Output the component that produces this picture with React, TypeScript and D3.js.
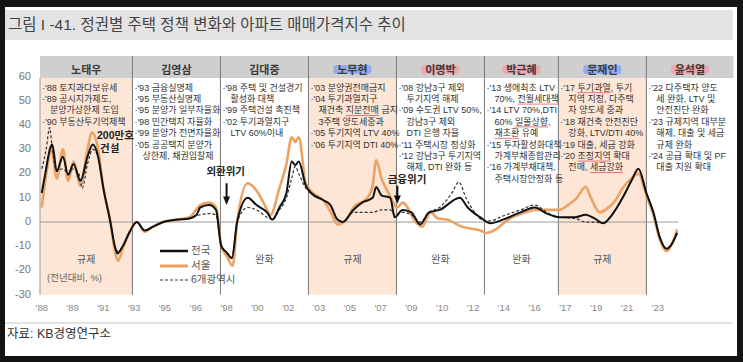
import React, { useEffect, useRef, useState } from 'react';
import * as d3 from 'd3';

// 정권별 주택 정책 변화와 아파트 매매가격지수 (전년대비, %)
const yTicks = [60, 50, 40, 30, 20, 10, 0, -10, -20, -30];
const xTickLabels = ["'88", "'89", "'91", "'93", "'95", "'96", "'98", "'00", "'02", "'03", "'05",
  "'07", "'09", "'10", "'12", "'14", "'16", "'17", "'19", "'21", "'23"];

const regimes = ['노태우', '김영삼', '김대중', '노무현', '이명박', '박근혜', '문재인', '윤석열'];
const regimeStarts = [1987.9, 1993.15, 1998.15, 2003.15, 2008.15, 2013.15, 2017.35, 2022.35];
const regimeStances = ['규제', '', '완화', '규제', '완화', '완화', '규제', ''];
const regimeShaded = [true, false, false, true, false, false, true, false];
const regimeMarks = ['', '', '', 'blue', 'red', 'red', 'blue', 'red'];

const policyNotes: string[][] = [
  ["·'88 토지과다보유세", "·'89 공시지가제도,", "분양가상한제 도입", "·'90 부동산투기억제책"],
  ["·'93 금융실명제", "·'95 부동산실명제", "·'95 분양가 일부자율화", "·'98 민간택지 자율화",
    "·'99 분양가 전면자율화", "·'05 공공택지 분양가", "상한제, 채권입찰제"],
  ["·'98 주택 및 건설경기", "활성화 대책", "·'99 주택건설 촉진책", "·'02 투기과열지구", "LTV 60%이내"],
  ["·'03 분양권전매금지", "·'04 투기과열지구", "재건축 지분전매 금지", "3주택 양도세중과",
    "·'05 투기지역 LTV 40%", "·'06 투기지역 DTI 40%"],
  ["·'08 강남3구 제외", "투기지역 해제", "·'09 수도권 LTV 50%,", "강남3구 제외", "DTI 은행 자율",
    "·'11 주택시장 정상화", "·'12 강남3구 투기지역", "해제, DTI 완화 등"],
  ["·'13 생애최초 LTV", "70%, 전월세대책", "·'14 LTV 70%,DTI", "60% 일몰상향,", "재초환 유예",
    "·'15 투자활성화대책", "가계부채종합관리", "·'16 가계부채대책,", "주택시장안정화 등"],
  ["·'17 투기과열, 투기", "지역 지정, 다주택", "자 양도세 중과", "·'18 재건축 안전진단",
    "강화, LTV/DTI 40%", "·'19 대출, 세금 강화", "·'20 조정지역 확대", "전매, 세금강화"],
  ["·'22 다주택자 양도", "세 완화, LTV 및", "안전진단 완화", "·'23 규제지역 대부분",
    "해제, 대출 및 세금", "규제 완화", "·'24 공급 확대 및 PF", "대출 지원 확대"],
];

// red hand-drawn underlines: [regime, line, phrase]
const noteUnderlines: [number, number, string][] = [
  [3, 2, '지분전매'], [5, 1, '전월세대책'], [5, 3, '일몰상향'], [5, 4, '재초환'],
  [6, 0, '투기과열'], [6, 6, '조정지역'], [6, 7, '세금강화'],
];

// [연도, 전년대비 %]
const national: [number, number][] = [
  [1988.0, 12], [1988.2, 20], [1988.5, 31], [1988.6, 32], [1988.85, 21], [1989.2, 27], [1989.5, 19.5],
  [1989.8, 24], [1990.2, 17], [1990.6, 27], [1990.9, 32], [1991.2, 27], [1991.5, 14], [1991.9, 0],
  [1992.15, -10], [1992.3, -13], [1992.6, -10], [1993.0, -4], [1993.4, 0], [1993.85, -3.5], [1994.3, -2],
  [1994.9, 0], [1995.7, 1], [1996.4, 1.5], [1996.8, 3], [1997.0, 6], [1997.5, 7], [1997.9, 5],
  [1998.2, -10], [1998.5, -12.5], [1998.8, -15], [1999.1, 0], [1999.7, 10], [2000.2, 7], [2000.8, 4],
  [2001.1, 1], [2001.5, 6], [2001.9, 12], [2002.2, 25], [2002.4, 23.5], [2002.6, 25], [2003.0, 15],
  [2003.3, 12], [2004.0, 9], [2004.4, 7], [2004.8, 1], [2005.1, 0], [2005.7, 5], [2006.2, 8],
  [2006.8, 10], [2007.0, 14.5], [2007.3, 11], [2007.8, 10], [2008.05, 2], [2008.5, 5], [2009.0, 4],
  [2009.5, -1], [2010.0, 4], [2010.6, 5], [2011.75, 10], [2012.2, 6], [2012.9, 2], [2013.5, -0.5],
  [2014.2, 1], [2015.2, 4], [2016.0, 6], [2016.7, 3.5], [2017.4, 2], [2018.3, 2], [2018.9, 3],
  [2019.4, 1.5], [2019.9, -0.5], [2020.4, 3], [2021.0, 10], [2021.5, 17], [2021.9, 22], [2022.35, 12],
  [2022.75, 4], [2023.1, -6], [2023.5, -11], [2023.8, -9], [2024.1, -4.5],
];

const seoul: [number, number][] = [
  [1988.0, 6], [1988.3, 22], [1988.55, 30], [1988.85, 18], [1989.2, 30], [1989.5, 17], [1989.8, 25],
  [1990.2, 15], [1990.6, 30], [1990.85, 37], [1991.2, 30], [1991.5, 14], [1991.9, 0], [1992.15, -12],
  [1992.35, -16], [1992.6, -11], [1993.0, -4], [1993.4, 0], [1993.85, -4], [1994.3, -2], [1994.9, 0],
  [1995.7, 1], [1996.4, 2], [1997.0, 7], [1997.5, 8], [1997.9, 6], [1998.2, -10], [1998.5, -14],
  [1998.85, -18], [1999.1, 0], [1999.7, 16], [2000.2, 13], [2000.6, 8], [2001.0, 3], [2001.5, 14],
  [2001.9, 24], [2002.2, 35], [2002.4, 33], [2002.6, 35], [2003.0, 16], [2003.4, 12], [2004.0, 9],
  [2004.5, 3], [2004.8, -1], [2005.3, 1], [2005.7, 6], [2006.5, 10], [2006.8, 15], [2007.0, 25.5],
  [2007.3, 18], [2007.7, 12], [2008.2, 6], [2008.5, 8], [2009.3, -0.5], [2009.6, -2], [2010.1, 4],
  [2010.5, 1.5], [2011.0, 1], [2011.9, -2], [2012.9, -3.5], [2013.3, -4.5], [2013.8, -3], [2014.5, 1],
  [2015.5, 4], [2016.0, 5], [2017.0, 5], [2017.4, 5], [2017.9, 7], [2018.4, 10], [2018.9, 14.5],
  [2019.2, 10], [2019.7, 4], [2020.2, 6], [2020.6, 9], [2021.0, 14], [2021.5, 18], [2021.9, 20],
  [2022.35, 11], [2022.75, 3], [2023.1, -7], [2023.5, -12], [2023.8, -9], [2024.1, -3],
];

const metro6: [number, number][] = [
  [1988.0, 22], [1988.25, 30], [1988.45, 39], [1988.6, 30], [1988.85, 21], [1989.2, 22], [1989.5, 20],
  [1989.8, 22], [1990.1, 20], [1990.3, 14], [1990.6, 24], [1990.9, 30], [1991.2, 27], [1991.5, 14],
  [1991.9, 0], [1992.15, -10], [1992.3, -12], [1992.6, -10], [1993.0, -4], [1993.4, 0], [1993.85, -3.5],
  [1994.3, -2], [1994.9, 0], [1995.7, 1], [1996.4, 1.5], [1997.0, 3], [1997.5, 3.5], [1997.9, 3],
  [1998.2, -10], [1998.5, -12.5], [1998.8, -14.5], [1999.1, 0], [1999.7, 6], [2000.2, 5], [2000.8, 2],
  [2001.1, 1], [2001.5, 5], [2001.9, 10], [2002.2, 18], [2002.4, 23], [2002.6, 20], [2003.0, 14],
  [2003.3, 12], [2004.0, 9], [2004.4, 7], [2004.8, 1], [2005.1, 0], [2005.7, 4], [2006.3, 4],
  [2006.8, 4], [2007.3, 5], [2007.8, 5], [2008.05, 3], [2008.5, 4], [2009.0, 3], [2009.5, 0],
  [2010.0, 4], [2010.6, 6], [2011.3, 12], [2011.7, 16.5], [2012.1, 10], [2012.6, 4], [2013.0, 1],
  [2013.5, 0.5], [2014.2, 2.5], [2015.2, 5], [2016.0, 7], [2016.7, 4], [2017.4, 2], [2018.3, 1.5],
  [2018.9, 0], [2019.4, 0], [2019.9, -0.5], [2020.4, 3], [2021.0, 10], [2021.5, 17], [2021.9, 22],
  [2022.35, 12], [2022.75, 4], [2023.1, -6], [2023.5, -11], [2023.8, -9], [2024.1, -4],
];

// Latin first keeps line boxes tight; Korean glyphs fall back to Noto CJK
const FONT = "'Liberation Sans', 'Noto Sans CJK KR', sans-serif";
const W = 743;
const H = 362;

type Seg = { x1: number; x2: number; y: number };

export default function App() {
  const svgRef = useRef<SVGSVGElement>(null);
  const [underlines, setUnderlines] = useState<Seg[]>([]);

  const x = d3.scaleLinear().domain([1987.9, 2027.3]).range([40, 733.5]);
  const y = d3.scaleLinear().domain([-30, 60]).range([294.7, 76.7]);
  const line = d3
    .line<[number, number]>()
    .x(d => x(d[0]))
    .y(d => y(d[1]))
    .curve(d3.curveMonotoneX);

  const headTop = 56;
  const headBottom = 78;
  const plotBottom = y(-30);
  const bounds = [...regimeStarts, 2027.3];
  const noteY = (j: number) => 90.5 + j * 11.4;

  // measure the underlined phrases once the text is laid out
  useEffect(() => {
    if (!svgRef.current) return;
    const segs: Seg[] = [];
    noteUnderlines.forEach(([ri, li, phrase]) => {
      const el = svgRef.current!.querySelector(`tspan[data-note="${ri}-${li}"]`) as SVGTSpanElement | null;
      if (!el) return;
      const start = policyNotes[ri][li].indexOf(phrase);
      if (start < 0) return;
      const a = el.getStartPositionOfChar(start).x;
      const b = el.getEndPositionOfChar(start + phrase.length - 1).x;
      segs.push({ x1: a, x2: b, y: noteY(li) + 2.2 });
    });
    setUnderlines(segs);
  }, []);

  const arrow = (t: number, top: number, tip: number) => (
    <g>
      <line x1={x(t)} x2={x(t)} y1={y(top)} y2={y(tip + 3)} stroke="#111" strokeWidth={2} />
      <path d={`M${x(t) - 3.5},${y(tip + 3.5)} L${x(t) + 3.5},${y(tip + 3.5)} L${x(t)},${y(tip)} Z`} fill="#111" />
    </g>
  );

  return (
    <svg ref={svgRef} width={W} height={H} style={{ position: 'absolute', left: 0, top: 0, fontFamily: FONT }}>
      <rect x={0} y={0} width={W} height={H} fill="#141414" />
      <rect x={5} y={7} width={732} height={349} fill="#fff" />

      {/* title */}
      <rect x={5} y={10} width={728} height={30} fill="#e3e3e3" />
      <text x={8} y={30} fontSize={15.5} fill="#444">
        그림 I -41. 정권별 주택 정책 변화와 아파트 매매가격지수 추이
      </text>

      {/* regime shading + header */}
      {regimes.map((r, i) => {
        const x0 = x(bounds[i]);
        const x1 = x(bounds[i + 1]);
        const cx = (x0 + x1) / 2;
        return (
          <g key={r}>
            <rect x={x0} y={headTop} width={x1 - x0} height={headBottom - headTop} fill="#cfcfcf" />
            {regimeShaded[i] && (
              <rect x={x0} y={headBottom} width={x1 - x0} height={plotBottom - headBottom} fill="#fde6d6" />
            )}
            {regimeMarks[i] && (
              <rect
                x={cx - 19}
                y={65}
                width={38}
                height={9}
                rx={3}
                fill={regimeMarks[i] === 'blue' ? '#8aa6f0' : '#f4a0a8'}
                opacity={0.85}
              />
            )}
            <text x={cx} y={71} textAnchor="middle" dominantBaseline="middle" fontSize={11} fontWeight="bold" fill="#3a3a3a">
              {r}
            </text>
            {regimeStances[i] && (
              <text x={cx} y={260} textAnchor="middle" dominantBaseline="middle" fontSize={10} fill="#555">
                {regimeStances[i]}
              </text>
            )}
          </g>
        );
      })}

      {/* separators */}
      {regimeStarts.slice(1).map(t => (
        <line key={t} x1={x(t)} x2={x(t)} y1={headTop} y2={plotBottom} stroke="#777" strokeWidth={1} />
      ))}
      <line x1={40} x2={40} y1={headBottom} y2={plotBottom} stroke="#999" strokeWidth={1} />

      {/* y axis labels */}
      {yTicks.map(v => (
        <text key={v} x={31} y={y(v)} textAnchor="end" dominantBaseline="middle" fontSize={11} fill="#777">
          {v}
        </text>
      ))}
      {/* x axis labels, every 21 months */}
      {xTickLabels.map((l, i) => (
        <text key={l + i} x={x(1988 + i * 1.75)} y={308} textAnchor="middle" dominantBaseline="middle" fontSize={9.5} fill="#888">
          {l}
        </text>
      ))}

      <line x1={40} x2={x(2024.15)} y1={y(0)} y2={y(0)} stroke="#9a9a9a" strokeWidth={1} />

      {/* series */}
      <path d={line(seoul) || ''} fill="none" stroke="#eba262" strokeWidth={2.6} strokeLinejoin="round" />
      <path d={line(metro6) || ''} fill="none" stroke="#333" strokeWidth={1.2} strokeDasharray="3,2" />
      <path d={line(national) || ''} fill="none" stroke="#111" strokeWidth={2} strokeLinejoin="round" />

      {/* policy notes: one text block per regime */}
      {policyNotes.map((lines, i) => (
        <text key={i} y={90} fontSize={9} fill="#333">
          {lines.map((l, j) => (
            <tspan key={j} data-note={`${i}-${j}`} x={x(regimeStarts[i]) + (l.startsWith('·') ? 2 : 10)} y={noteY(j)}>
              {l}
            </tspan>
          ))}
        </text>
      ))}
      {underlines.map((s, i) => (
        <line key={i} x1={s.x1} x2={s.x2} y1={s.y} y2={s.y} stroke="#e0525e" strokeWidth={0.9} opacity={0.85} />
      ))}

      {/* events */}
      <text fontSize={10.5} fontWeight="bold" fill="#222">
        <tspan x={97} y={139}>200만호</tspan>
        <tspan x={100} y={152}>건설</tspan>
      </text>

      <text x={x(1998.45)} y={172} textAnchor="middle" dominantBaseline="middle" fontSize={10.5} fontWeight="bold" fill="#222">외환위기</text>
      {arrow(1998.5, 16, 7)}

      <text x={x(2008.75)} y={180} textAnchor="middle" dominantBaseline="middle" fontSize={10.5} fontWeight="bold" fill="#222">금융위기</text>
      {arrow(2008.2, 15, 7.5)}

      {/* legend */}
      <line x1={160} x2={188} y1={251} y2={251} stroke="#111" strokeWidth={2.5} />
      <text x={191} y={251} dominantBaseline="middle" fontSize={10.5} fill="#555">전국</text>
      <line x1={160} x2={188} y1={266} y2={266} stroke="#eba262" strokeWidth={3} />
      <text x={191} y={266} dominantBaseline="middle" fontSize={10.5} fill="#555">서울</text>
      <line x1={160} x2={188} y1={280} y2={280} stroke="#333" strokeWidth={1.2} strokeDasharray="3,2" />
      <text x={191} y={280} dominantBaseline="middle" fontSize={10.5} fill="#555">6개광역시</text>

      <text x={47} y={278} dominantBaseline="middle" fontSize={9.5} fill="#666">(전년대비, %)</text>

      {/* source */}
      <line x1={5} x2={733} y1={323} y2={323} stroke="#c4c4c4" strokeWidth={1} />
      <text x={7} y={335} dominantBaseline="middle" fontSize={12.5} fill="#333">자료: KB경영연구소</text>
    </svg>
  );
}
